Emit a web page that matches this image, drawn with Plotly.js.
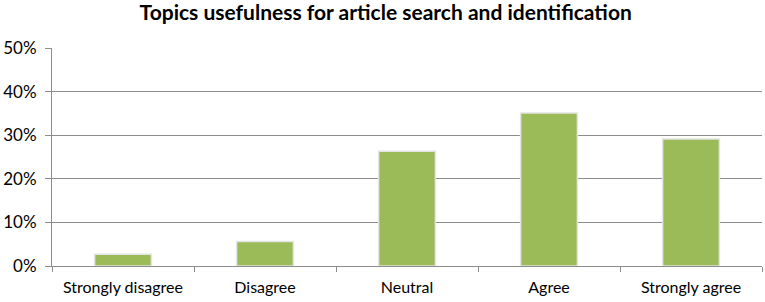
<!DOCTYPE html>
<html>
<head>
<meta charset="utf-8">
<script src="https://cdn.plot.ly/plotly-3.0.1.min.js"></script>
<style>html,body{margin:0;padding:0;background:#fff;}#chart{width:765px;height:302px;}</style>
</head>
<body>
<div id="chart"></div>
<script>
const categories = ["Strongly disagree", "Disagree", "Neutral", "Agree", "Strongly agree"];
const values = [0.027, 0.056, 0.263, 0.351, 0.291];
const yTickVals = [0, 0.1, 0.2, 0.3, 0.4, 0.5];
const yTickText = ["0%", "10%", "20%", "30%", "40%", "50%"];
const chartTitle = "Topics usefulness for article search and identification";

const trace = {
  type: "bar",
  x: categories,
  y: values,
  marker: { color: "#9BBB59", line: { color: "#e4e4e4", width: 1.5 } },
  hoverinfo: "none"
};

const layout = {
  width: 765,
  height: 302,
  margin: { l: 52, r: 3, t: 48, b: 36 },
  paper_bgcolor: "#fff",
  plot_bgcolor: "#fff",
  bargap: 0.6,
  showlegend: false,
  font: { family: "Lato, 'Open Sans', sans-serif", color: "#000" },
  title: {
    text: "<b>" + chartTitle + "</b>",
    x: 0.47, xref: "paper", xanchor: "center", y: 0.958, yref: "container", yanchor: "middle",
    font: { size: 21, family: "Lato, 'Open Sans', sans-serif", color: "#000" }
  },
  xaxis: {
    type: "category",
    showgrid: false,
    showline: true, linecolor: "#8c8c8c", linewidth: 1,
    ticks: "outside", tickson: "boundaries", ticklen: 5, tickcolor: "#8c8c8c",
    ticklabelstandoff: 7,
    tickfont: { size: 16, family: "Lato, 'Open Sans', sans-serif", color: "#000" },
    fixedrange: true
  },
  yaxis: {
    range: [0, 0.5],
    tickvals: yTickVals,
    ticktext: yTickText,
    showgrid: true, gridcolor: "#8c8c8c", gridwidth: 1,
    showline: true, linecolor: "#8c8c8c", linewidth: 1,
    zeroline: false,
    ticks: "outside", ticklen: 6, tickcolor: "#8c8c8c",
    ticklabelstandoff: 5,
    tickfont: { size: 17, family: "Lato, 'Open Sans', sans-serif", color: "#000" },
    fixedrange: true
  }
};

Plotly.newPlot("chart", [trace], layout, { displayModeBar: false, staticPlot: true });
</script>
</body>
</html>
